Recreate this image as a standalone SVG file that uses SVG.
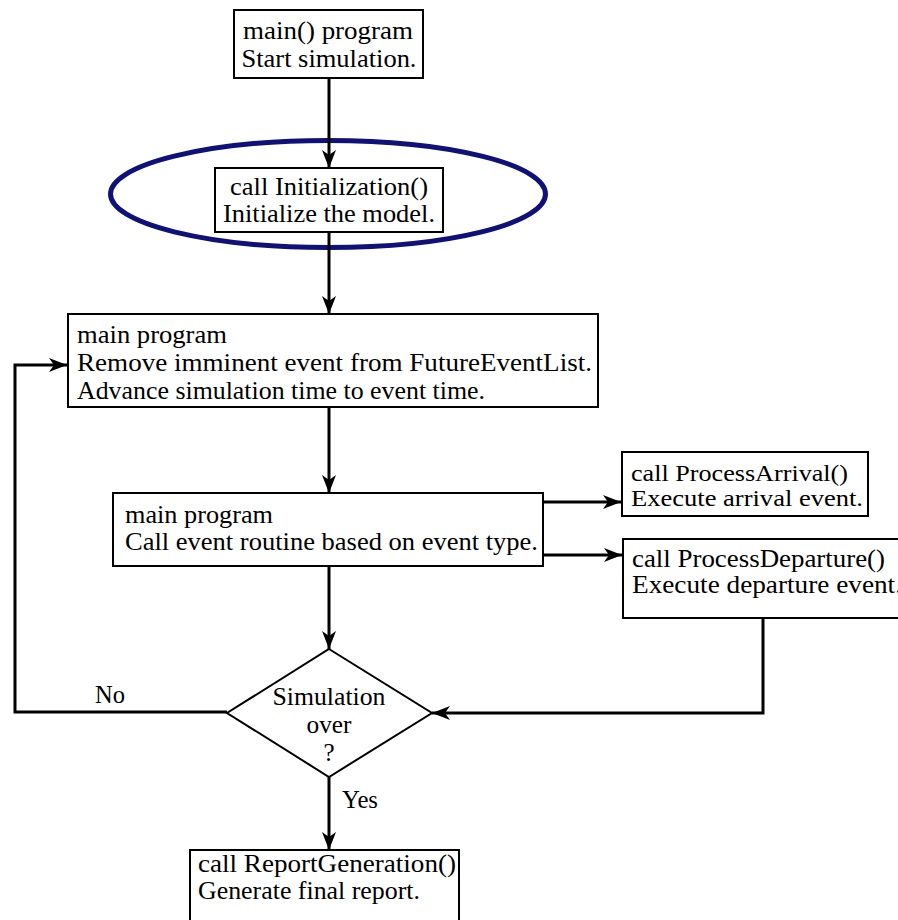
<svg xmlns="http://www.w3.org/2000/svg" width="898" height="920" viewBox="0 0 898 920">
<style>
.box{fill:#fff;stroke:#000;stroke-width:2}
.t{font-family:"Liberation Serif","Times New Roman",serif;font-size:26px;fill:#000}
.s24{font-size:24px}
.s25{font-size:25px}
.c{text-anchor:middle}
.lbl{font-family:"Liberation Serif","Times New Roman",serif;font-size:25px;fill:#000}
.conn{fill:none;stroke:#000;stroke-width:3}
</style>
<defs>
<marker id="ah" markerUnits="userSpaceOnUse" markerWidth="20" markerHeight="14" refX="18" refY="7" orient="auto">
<path d="M0,0 L18,7 L0,14 L5,7 z" fill="#000"/>
</marker>
</defs>
<rect width="898" height="920" fill="#fff"/>
<ellipse id="highlight" cx="328" cy="194" rx="217.5" ry="53.5" fill="none" stroke="#10107a" stroke-width="5"/>
<g id="connectors">
<line class="conn" x1="329" y1="78" x2="329" y2="168" marker-end="url(#ah)"/>
<line class="conn" x1="329" y1="232" x2="329" y2="314" marker-end="url(#ah)"/>
<line class="conn" x1="329" y1="407" x2="329" y2="493" marker-end="url(#ah)"/>
<line class="conn" x1="329" y1="566" x2="329" y2="649" marker-end="url(#ah)"/>
<line class="conn" x1="329" y1="777" x2="329" y2="850" marker-end="url(#ah)"/>
<line class="conn" x1="543" y1="502" x2="621" y2="502" marker-end="url(#ah)"/>
<line class="conn" x1="543" y1="555" x2="622" y2="555" marker-end="url(#ah)"/>
<polyline class="conn" points="763,618 763,713 432,713" marker-end="url(#ah)"/>
<polyline class="conn" points="227,712 15,712 15,365 67,365" marker-end="url(#ah)"/>
</g>
<g id="start">
<rect class="box" x="234" y="10" width="189" height="68"/>
<text class="t c" x="328" y="39" textLength="170" lengthAdjust="spacingAndGlyphs">main() program</text>
<text class="t c" x="329" y="67" textLength="175" lengthAdjust="spacingAndGlyphs">Start simulation.</text>
</g>
<g id="init">
<rect class="box" x="215" y="168" width="228" height="64"/>
<text class="t c" x="329" y="195" textLength="198" lengthAdjust="spacingAndGlyphs">call Initialization()</text>
<text class="t c" x="329" y="222" textLength="212" lengthAdjust="spacingAndGlyphs">Initialize the model.</text>
</g>
<g id="advance">
<rect class="box" x="68" y="314" width="530" height="93"/>
<text class="t" x="77" y="343" textLength="150" lengthAdjust="spacingAndGlyphs">main program</text>
<text class="t" x="77" y="371" textLength="515" lengthAdjust="spacingAndGlyphs">Remove imminent event from FutureEventList.</text>
<text class="t" x="77" y="399" textLength="408" lengthAdjust="spacingAndGlyphs">Advance simulation time to event time.</text>
</g>
<g id="dispatch">
<rect class="box" x="113" y="493" width="430" height="73"/>
<text class="t" x="125" y="523" textLength="148" lengthAdjust="spacingAndGlyphs">main program</text>
<text class="t" x="125" y="550" textLength="413" lengthAdjust="spacingAndGlyphs">Call event routine based on event type.</text>
</g>
<g id="arrival">
<rect class="box" x="622" y="452" width="246" height="64"/>
<text class="t s24" x="631" y="481" textLength="217" lengthAdjust="spacingAndGlyphs">call ProcessArrival()</text>
<text class="t s24" x="631" y="506" textLength="232" lengthAdjust="spacingAndGlyphs">Execute arrival event.</text>
</g>
<g id="departure">
<rect class="box" x="623" y="539" width="290" height="79"/>
<text class="t s25" x="632" y="567" textLength="253" lengthAdjust="spacingAndGlyphs">call ProcessDeparture()</text>
<text class="t s25" x="632" y="593" textLength="270" lengthAdjust="spacingAndGlyphs">Execute departure event.</text>
</g>
<g id="decision">
<polygon points="329,649 432,713 329,777 227,713" fill="#fff" stroke="#000" stroke-width="2"/>
<text class="lbl c" x="329" y="705" textLength="113" lengthAdjust="spacingAndGlyphs">Simulation</text>
<text class="lbl c" x="329" y="733" textLength="45" lengthAdjust="spacingAndGlyphs">over</text>
<text class="lbl c" x="329" y="761">?</text>
</g>
<g id="report">
<rect class="box" x="190" y="850" width="269" height="80"/>
<text class="t" x="198" y="872" textLength="258" lengthAdjust="spacingAndGlyphs">call ReportGeneration()</text>
<text class="t" x="198" y="899" textLength="222" lengthAdjust="spacingAndGlyphs">Generate final report.</text>
</g>
<text class="lbl" x="95" y="703" textLength="30" lengthAdjust="spacingAndGlyphs">No</text>
<text class="lbl" x="342" y="808" textLength="36" lengthAdjust="spacingAndGlyphs">Yes</text>
</svg>
